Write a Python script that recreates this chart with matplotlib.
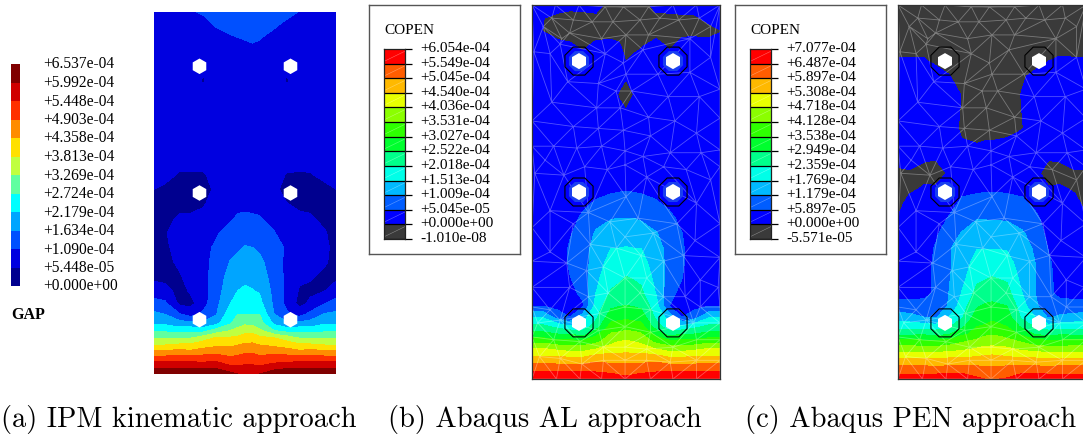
import numpy as np
import matplotlib
matplotlib.use('Agg')
import matplotlib.pyplot as plt
import matplotlib.tri as mtri
from matplotlib.patches import RegularPolygon
from matplotlib.transforms import ScaledTranslation

grid_x = [0, .06, .14, .2, .27, .34, .42, .46, .5, .54, .58, .66, .73, .8, .86, .94, 1]
grid_y = [0, .03, .06, .09, .12, .16, .2, .24, .28, .33, .39,
          .46, .54, .62, .7, .78, .86, .94, 1.02, 1.1, 1.18,
          1.26, 1.34, 1.42, 1.52, 1.62, 1.7, 1.78, 1.86, 1.93, 2.0]

# field values in legend steps, one list per grid_x column
gap_field = [
    [12,11,10.2,9.3,8.3,7,5.9,4.8,3.9,3.2,2.4, 1.4,.8,.7,.7,.7,.6,.6,1,1.3,1.4, 1.5,1.5,1.5,1.5,1.5,1.5,1.5,1.5,1.5,1.5],
    [12,11,10.2,9.3,8.3,7,5.9,4.8,3.8,3,2.2, 1.3,.7,.7,.8,.95,.8,.6,.8,1.3,1.4, 1.5,1.5,1.5,1.5,1.5,1.5,1.5,1.5,1.5,1.5],
    [12,11,10.3,9.5,8.5,7.2,5.85,4.6,3.4,2.1,.8, .7,.9,1.2,1.4,1.3,1.1,.8,.6,.9,1.3, 1.5,1.5,1.5,1.5,1.5,1.5,1.5,1.5,1.5,1.5],
    [12,11,10.2,9.4,8.3,7.2,5.9,4.7,3.3,1.6,.7, 1.1,1.4,1.5,1.6,1.4,1.15,.7,.6,.9,1.3, 1.5,1.5,1.5,1.5,1.5,1.5,1.5,1.5,1.55,1.9],
    [12,11,10.1,9.5,8.5,7.6,6.5,4.6,3.2,2.2,1.6, 1.6,1.7,1.7,1.8,1.5,1.3,.9,.6,.9,1.3, 1.5,1.5,1.5,1.5,.9,1.2,1.5,1.5,1.7,2.1],
    [12,11,10.2,9.6,8.7,7.8,7.1,5.4,3.7,2.9,2.7, 2.5,2.4,2.3,2.1,1.9,1.7,1.4,1.2,1.3,1.4, 1.5,1.5,1.5,1.5,1.5,1.5,1.5,1.6,2.1,2.4],
    [11.3,10.4,9.7,9.1,8.6,7.8,7.1,6,4.9,4.6,4, 3.7,3.4,3.05,2.7,2.3,1.9,1.7,1.6,1.5,1.5, 1.5,1.5,1.5,1.5,1.5,1.6,1.7,1.9,2.4,2.6],
    [11,10.3,9.7,9.2,8.7,8,7.2,6.3,5.6,5,4.5, 4,3.6,3.25,2.85,2.45,2.1,1.8,1.6,1.5,1.5, 1.5,1.5,1.5,1.5,1.5,1.6,1.7,2,2.5,2.6],
    [10.9,10.5,9.8,9.4,8.9,8.2,7.4,6.7,5.8,5,4.6, 4.15,3.75,3.4,3.05,2.6,2.15,1.8,1.6,1.5,1.5, 1.5,1.5,1.5,1.5,1.5,1.6,1.8,2.05,2.5,2.6],
    [10.9,10.5,9.8,9.4,8.9,8.2,7.5,6.7,5.7,5,4.4, 4.05,3.7,3.35,3,2.55,2.1,1.8,1.6,1.5,1.5, 1.5,1.5,1.5,1.5,1.5,1.6,1.85,2.1,2.5,2.6],
    [11,10.3,9.7,9.2,8.7,8,7.2,6.2,5.4,5,4.3, 3.9,3.5,3.2,2.85,2.5,2.05,1.8,1.6,1.5,1.5, 1.5,1.5,1.5,1.5,1.5,1.6,1.8,2.05,2.4,2.6],
    [11.8,10.7,10,9.5,8.7,7.8,7,5,3.8,3,2.8, 2.7,2.6,2.5,2.3,2.05,1.7,1.4,1.2,1.3,1.4, 1.5,1.5,1.5,1.5,1.5,1.5,1.6,1.8,2.1,2.4],
    [12,11,10.1,9.5,8.5,7.6,6.5,4.6,3.2,2.2,1.7, 1.75,1.75,1.75,1.9,1.5,1.3,1.03,.7,.95,1.3, 1.5,1.5,1.5,1.5,.9,1.2,1.5,1.5,1.85,2.2],
    [12,11,10.2,9.4,8.3,7.2,5.9,4.7,3.3,1.6,.7, .9,1.2,1.4,1.5,1.4,1.2,.8,.6,.9,1.3, 1.5,1.5,1.5,1.5,1.5,1.5,1.5,1.5,1.5,1.97],
    [12,11,10.3,9.5,8.5,7.2,5.85,4.6,3.4,2.3,1.2, .8,1.1,1.3,1.4,1.3,1.1,.8,.6,.95,1.25, 1.5,1.5,1.5,1.5,1.5,1.5,1.5,1.5,1.5,1.8],
    [12,11,10.2,9.3,8.3,7,5.9,4.8,3.9,3.1,2, 1,.8,1.1,1.2,1.05,.8,.6,.8,1.2,1.35, 1.5,1.5,1.5,1.5,1.5,1.5,1.5,1.5,1.5,1.6],
    [12,11,10.2,9.3,8.3,7,5.9,4.8,3.9,3.2,2.4, 1.4,.8,.7,.7,.7,.6,.6,1,1.3,1.4, 1.5,1.5,1.5,1.5,1.5,1.5,1.5,1.5,1.5,1.5],
]

al_field = [
    [12,11.2,10.5,9.8,9,8.1,6.7,5.3,4.25,2.9,1, .7,.5,.5,.5,.5,.5,.5,.5,.5,.5, .5,.5,.5,.5,.5,.5,.5,.5,.5,.5],
    [12,11.2,10.5,9.8,9,8.1,6.7,5.3,4.25,2.9,1, .7,.5,.5,.5,.5,.5,.5,.5,.5,.5, .5,.5,.5,.5,.5,.5,.5,-.02,.02,.5],
    [12,11.2,10.5,9.75,9,7.8,6.3,5,3.7,1.5,.7, .6,.5,.5,.5,.5,.5,.5,.5,.5,.5, .5,.5,.5,.5,.5,.5,.3,-.4,-.3,.5],
    [12,11.2,10.5,9.7,8.9,7.6,6.3,5,3.2,1,.6, .8,.95,1.1,1.1,.9,.7,.5,.5,.5,.5, .5,.5,.5,.5,.5,.5,.2,-.5,-.5,.4],
    [12,11.2,10.5,9.7,8.9,7.6,6.3,4.6,3.4,2.6,.9, 1.15,1.4,1.5,1.6,1.4,1.15,.8,.5,.5,.5, .5,.5,.5,.5,.5,.5,-.2,-.5,-.5,.5],
    [12,11.2,10.4,10,9.3,8,6.7,5.7,4.5,3.8,3.4, 3,2.75,2.55,2.35,2.1,1.7,1.1,.7,.5,.5, .5,.5,.5,.5,.5,.5,.3,-.5,-.3,.5],
    [12,11,10.4,9.9,9.4,8.5,7.7,7.1,6.4,5.6,4.8, 4.1,3.7,3.35,3,2.45,1.95,1.35,.8,.5,.5, .5,.5,.5,.5,.5,.5,.4,-.5,-.5,-.5],
    [11.6,10.8,10.4,9.9,9.3,8.6,8,7.2,6.5,5.7,4.95, 4.25,3.85,3.4,3,2.5,2,1.4,.85,.5,.5, .5,.5,.3,-.05,.3,.5,.2,-.5,-.5,-.5],
    [11.3,10.75,10.4,9.9,9.3,8.7,8.1,7.4,6.6,5.8,5.05, 4.45,4.05,3.55,3.05,2.5,2,1.45,.9,.5,.5, .5,.5,.1,-.4,.1,-.02,-.4,-.5,-.5,-.5],
    [11.6,10.8,10.4,9.9,9.3,8.6,8,7.3,6.5,5.7,4.95, 4.3,3.95,3.5,3,2.5,2,1.4,.85,.5,.5, .5,.5,.3,0,.3,.3,-.3,-.5,-.5,-.5],
    [12,11,10.4,9.9,9.4,8.5,7.8,7.1,6.4,5.6,4.8, 4.2,3.8,3.4,3,2.4,1.9,1.35,.8,.5,.5, .5,.5,.5,.5,.5,.5,-.1,-.5,-.5,-.5],
    [12,11.2,10.4,10,9.3,8,6.7,5.7,4.5,3.8,3.4, 2.95,2.7,2.5,2.3,2.05,1.6,1.1,.7,.5,.5, .5,.5,.5,.5,.5,.5,.5,-.5,-.3,.4],
    [12,11.2,10.5,9.7,8.9,7.6,6.3,4.6,3.4,2.6,1, 1.3,1.6,1.7,1.75,1.55,1.25,.8,.5,.5,.5, .5,.5,.5,.5,.5,.5,-.15,-.5,-.3,.5],
    [12,11.2,10.5,9.7,8.9,7.6,6.3,5,3.2,1,.6, .7,1,1.1,1.1,1,.7,.5,.5,.5,.5, .5,.5,.5,.5,.5,.5,.3,-.2,-.2,.5],
    [12,11.2,10.5,9.75,9,7.8,6.3,5,3.7,1.5,.7, .6,.5,.5,.5,.5,.5,.5,.5,.5,.5, .5,.5,.5,.5,.5,.5,.5,-.3,-.2,.5],
    [12,11.2,10.5,9.8,9,8.1,6.7,5.3,4.25,2.9,1, .7,.5,.5,.5,.5,.5,.5,.5,.5,.5, .5,.5,.5,.5,.5,.5,.5,-.4,.3,.5],
    [12,11.2,10.5,9.8,9,8.1,6.7,5.3,4.25,2.9,1, .7,.5,.5,.5,.5,.5,.5,.5,.5,.5, .5,.5,.5,.5,.5,.5,.5,-.05,.5,.5],
]

pen_field = [
    [11.6,10.8,10.25,9.5,8.7,7.5,6.4,4.8,3.6,2.5,1.35, .7,.5,.5,.5,.3,.05,-.3,-.5,-.2,.3, .5,.5,.5,.5,.5,.1,-.3,-.5,-.5,-.5],
    [11.6,10.8,10.25,9.5,8.7,7.5,6.4,4.8,3.6,2.4,1.3, .7,.5,.5,.5,.5,.5,.3,-.2,-.1,.3, .5,.5,.5,.5,.5,.1,-.3,-.5,-.5,-.5],
    [11.6,10.8,10.25,9.5,8.7,7.4,6.3,4.85,3.5,2,1.25, .8,.7,.6,.5,.5,.5,.4,.1,-.3,.1, .5,.5,.5,.5,.5,.1,-.3,-.5,-.5,-.5],
    [11.7,10.9,10.2,9.5,8.7,7.4,6.3,4.7,3.4,1.9,1, 1.1,1.2,1.2,1.1,.8,.6,.5,.1,-.4,.05, .5,.5,.5,.5,.5,-.2,-.5,-.5,-.5,-.5],
    [11.9,11,10.2,9.6,8.8,7.6,6.4,4.9,3.9,3,2.1, 2,1.9,1.85,1.95,1.6,1.05,.7,.5,.1,.5, .5,.5,.5,.5,.05,-.4,-.5,-.5,-.5,-.5],
    [11.9,11,10.2,9.6,8.8,7.8,6.9,5.8,4.8,3.9,3.5, 3.05,2.7,2.5,2.2,2.05,1.5,1.15,.8,.6,.5, .1,-.2,-.1,-.05,-.4,-.5,-.5,-.5,-.5,-.5],
    [11.2,10.6,10.2,9.6,9,8.1,7.3,6.3,6,5.5,4.9, 4.3,3.8,3.4,2.95,2.45,1.95,1.35,.8,.6,.5, 0,-.5,-.5,-.5,-.5,-.5,-.5,-.5,-.5,-.5],
    [11,10.5,10.1,9.7,9.1,8.3,7.5,6.8,6.1,5.6,5.1, 4.5,3.9,3.45,2.95,2.45,1.95,1.4,.85,.6,.5, .1,-.5,-.5,-.5,-.5,-.5,-.5,-.5,-.5,-.5],
    [11,10.45,10.1,9.7,9.2,8.3,7.6,6.9,6.4,5.7,5.15, 4.7,4.05,3.5,2.95,2.45,1.9,1.4,.85,.6,.4, .1,-.5,-.5,-.5,-.5,-.5,-.5,-.5,-.5,-.5],
    [11,10.5,10.1,9.7,9.1,8.3,7.5,6.8,6.2,5.6,5.1, 4.5,3.95,3.45,2.95,2.45,1.9,1.4,.85,.6,.5, .2,-.5,-.5,-.5,-.5,-.5,-.5,-.5,-.5,-.5],
    [11.1,10.6,10.2,9.6,9,8.2,7.4,6.5,6,5.5,5, 4.35,3.85,3.4,2.9,2.4,1.9,1.35,.8,.6,.5, .3,-.5,-.5,-.5,-.5,-.5,-.5,-.5,-.5,-.5],
    [11.9,11,10.2,9.6,8.8,7.8,6.9,5.8,4.8,3.8,3.4, 3,2.7,2.5,2.3,2.1,1.65,1.15,.8,.6,.5, .5,-.05,0,.05,-.1,-.5,-.5,-.5,-.5,-.5],
    [11.9,11,10.2,9.6,8.8,7.6,6.4,4.9,3.9,3,2.2, 2,2,2,1.9,1.6,1.2,.8,.6,.2,.5, .5,.5,.5,.5,.2,-.3,-.5,-.5,-.5,-.5],
    [11.7,10.9,10.2,9.5,8.7,7.4,6.3,4.7,3.4,1.9,1.3, 1.15,1.2,1.15,.95,.7,.6,.5,.05,-.3,.05, .5,.5,.5,.5,.5,0,-.4,-.5,-.5,-.5],
    [11.6,10.8,10.25,9.5,8.7,7.4,6.3,4.85,3.5,2.2,1.3, .8,.7,.6,.5,.5,.5,.4,.1,-.3,.1, .5,.5,.5,.5,.5,.15,-.3,-.5,-.5,-.5],
    [11.6,10.8,10.25,9.5,8.7,7.5,6.4,4.8,3.6,2.4,1.3, .7,.5,.5,.5,.5,.5,.2,-.1,-.1,.3, .5,.5,.5,.5,.5,.1,-.3,-.5,-.5,-.5],
    [11.6,10.8,10.25,9.5,8.7,7.5,6.4,4.8,3.6,2.5,1.35, .7,.5,.5,.5,.3,.1,-.2,-.4,-.1,.3, .5,.5,.5,.5,.5,.1,-.3,-.5,-.5,-.5],
]

# legend labels, bottom to top
gap_labels = ['+0.000e+00', '+5.448e-05', '+1.090e-04', '+1.634e-04', '+2.179e-04', '+2.724e-04', '+3.269e-04',
              '+3.813e-04', '+4.358e-04', '+4.903e-04', '+5.448e-04', '+5.992e-04', '+6.537e-04']
al_labels = ['-1.010e-08', '+0.000e+00', '+5.045e-05', '+1.009e-04', '+1.513e-04', '+2.018e-04', '+2.522e-04',
             '+3.027e-04', '+3.531e-04', '+4.036e-04', '+4.540e-04', '+5.045e-04', '+5.549e-04', '+6.054e-04']
pen_labels = ['-5.571e-05', '+0.000e+00', '+5.897e-05', '+1.179e-04', '+1.769e-04', '+2.359e-04', '+2.949e-04',
              '+3.538e-04', '+4.128e-04', '+4.718e-04', '+5.308e-04', '+5.897e-04', '+6.487e-04', '+7.077e-04']

gap_colors = ['#00008f', '#0000e0', '#0050ff', '#00a5ff', '#00ffff', '#60ffa0',
              '#c0ff40', '#ffe000', '#ff8c00', '#ff3000', '#d00000', '#800000']
abaqus_colors = ['#3a3a3a', '#0000ff', '#005dff', '#00b9ff', '#00ffe8', '#00ff8b', '#00ff2e',
                 '#2eff00', '#8bff00', '#e8ff00', '#ffb900', '#ff5d00', '#ff0000']

captions = ['(a) IPM kinematic approach', '(b) Abaqus AL approach', '(c) Abaqus PEN approach']

hole_x = [.25, .75]
hole_y = [.3, 1.0, 1.7]

# mesh nodes, same mesh in (c)
mesh_x = [0, .125, .25, .39, .486, .62, .75, .875, 1, .06, .105, .22, .32, .43, .575, .68, .78, .89, .95, .158, .84,
          .62, .50, .37, .2, .486, .39, .59, .096, .15, .01, .50, .447, .53, .47, .105, .19, .353, .344, .62, .76, .67,
          .84, .95, .89, .725, 1, 0, .22, .353, .486, .63, .875, 1, .115, .238, .37, .495, .59, .735, .9, 0, 1, .07,
          .17, .28, .40, .495, .61, .70, .82, 1, .015, .95, .096, 0, .22, .31, .30, .415, .50, .565, .495, .645, .77,
          .875, 1, .867, 1, .805, .70, .58, .45, .096, 0, .185, .38, .29, .495, .61, .895, .99, 0, .2, .3, .405, .575,
          .70, .815, .495, .36, .63, .096, 0, .895, 1, .03, .15, .355, .495, .63, .86, 1, 0, .115, .255, .38, .495,
          .61, .75, .875, 1, .04, .15, .265, .38, .495, .61, .735, .875, 1, 0, .13, .255, .37, .495, .63, .75, .875, 1]
mesh_y = [2, 2, 2, 1.99, 1.99, 1.99, 2, 2, 2, 1.885, 1.93, 1.92, 1.91, 1.91, 1.92, 1.93, 1.92, 1.93, 1.885, 1.82, 1.82,
          1.84, 1.84, 1.82, 1.85, 1.69, 1.74, 1.76, 1.74, 1.79, 1.75, 1.63, 1.54, 1.54, 1.45, 1.48, 1.59, 1.58, 1.45,
          1.40, 1.38, 1.63, 1.64, 1.72, 1.51, 1.51, 1.55, 1.38, 1.35, 1.34, 1.33, 1.30, 1.315, 1.395, 1.245, 1.235,
          1.245, 1.22, 1.19, 1.21, 1.21, 1.245, 1.225, 1.17, 1.09, 1.135, 1.12, 1.145, 1.08, 1.135, 1.12, 1.135, 1.10,
          1.065, .90, .81, .83, .72, .89, .84, .975, .86, .76, .78, .83, .94, .83, .74, .65, .66, .63, .66, .70, .68,
          .63, .62, .60, .58, .54, .54, .53, .49, .49, .49, .44, .46, .46, .44, .44, .385, .35, .37, .37, .385, .385,
          .385, .30, .315, .26, .28, .25, .30, .30, .225, .21, .20, .17, .17, .16, .17, .21, .21, .12, .11, .08, .10,
          .10, .10, .09, .10, .10, 0, 0, 0, 0, 0, 0, 0, 0, 0]

W, H = 1083, 434
plt.rcParams['font.family'] = ['Liberation Serif', 'DejaVu Serif']
fig = plt.figure(figsize=(W / 100, H / 100), dpi=100)


def px_axes(left, top, width, height):
    return fig.add_axes([left / W, 1 - (top + height) / H, width / W, height / H])


def draw_plate(rect, field, levels, colors):
    ax = px_axes(*rect)
    ax.contourf(grid_x, grid_y, np.array(field).T, levels=levels, colors=colors)
    ax.set_xlim(0, 1)
    ax.set_ylim(0, 2)
    ax.set_xticks([])
    ax.set_yticks([])
    return ax


def add_holes(ax, ring_colors=None):
    for j, y in enumerate(hole_y):
        for x in hole_x:
            if ring_colors is not None:
                if ring_colors[j] is not None:
                    ax.add_patch(RegularPolygon((x, y), 8, radius=.058, orientation=np.pi / 8,
                                                facecolor=ring_colors[j], edgecolor='none', zorder=3))
                ax.add_patch(RegularPolygon((x, y), 8, radius=.081, orientation=np.pi / 8,
                                            facecolor='none', edgecolor='black', lw=.8, zorder=4))
            ax.add_patch(RegularPolygon((x, y), 6, radius=.043, facecolor='white', edgecolor='none', zorder=5))


def draw_legend(rect, labels, colors, ticklen, pad, diagonal, font_size, shift):
    ax = px_axes(*rect)
    n = len(colors)
    ax.barh(np.arange(n) + .5, 1, height=1, color=colors, linewidth=0)
    ax.set_xlim(0, 1)
    ax.set_ylim(0, n)
    ax.set_xticks([])
    ax.yaxis.tick_right()
    ax.set_yticks(np.arange(n + 1), labels=labels, fontsize=font_size)
    ax.tick_params(axis='y', length=ticklen, width=.9, pad=pad)
    for lab in ax.get_yticklabels():
        lab.set_transform(lab.get_transform() + ScaledTranslation(0, shift / 100, fig.dpi_scale_trans))
    if diagonal:
        for i in range(n):
            ax.plot([0, 1], [i + .15, i + .85], color='white', lw=.4, alpha=.4)
            ax.axhline(i, color='black', lw=.9)
        for s in ax.spines.values():
            s.set_linewidth(.9)
            s.set_color('#222222')
    else:
        for s in ax.spines.values():
            s.set_visible(False)
    return ax


def legend_box(rect, title, tx, ty):
    ax = px_axes(*rect)
    ax.set_xticks([])
    ax.set_yticks([])
    for s in ax.spines.values():
        s.set_color('#555555')
        s.set_linewidth(1.0)
    fig.text(tx / W, 1 - ty / H, title, fontsize=11, va='center', ha='left')


mesh = mtri.Triangulation(mesh_x, mesh_y)

# panel (a)
ax_a = draw_plate((154, 12, 182, 362), gap_field, np.arange(0, 13), gap_colors)
add_holes(ax_a)
for s in ax_a.spines.values():
    s.set_visible(False)
draw_legend((11, 64, 9, 222), gap_labels, gap_colors, 0, 17, False, 11.2, 1.5)
fig.text(11 / W, 1 - 315 / H, 'GAP', fontsize=11.5, fontweight='bold', va='center', ha='left')

# panel (b)
legend_box((369, 5, 151, 249), 'COPEN', 384, 30)
draw_legend((384, 49, 21, 190), al_labels, abaqus_colors, 5, 6, True, 11, 2)
ax_b = draw_plate((532, 5, 188, 374), al_field, np.arange(-1, 13), abaqus_colors)
ax_b.triplot(mesh, color='white', lw=.6, alpha=.32, zorder=2)
add_holes(ax_b, [None, '#1a3ff0', '#1a3ff0'])
for s in ax_b.spines.values():
    s.set_linewidth(.9)
    s.set_color('#333333')

# panel (c)
legend_box((735, 5, 151, 249), 'COPEN', 750, 30)
draw_legend((750, 49, 21, 190), pen_labels, abaqus_colors, 5, 6, True, 11, 2)
ax_c = draw_plate((898, 5, 188, 374), pen_field, np.arange(-1, 13), abaqus_colors)
ax_c.triplot(mesh, color='white', lw=.6, alpha=.32, zorder=2)
add_holes(ax_c, [None, '#1a3ff0', None])
for s in ax_c.spines.values():
    s.set_linewidth(.9)
    s.set_color('#333333')

# captions in computer modern
for cap, cx in zip(captions, [179, 545, 911]):
    fig.text(cx / W, 1 - 419 / H, cap, fontsize=20.5, family='cmr10', ha='center', va='center')

fig.savefig('out.png', dpi=100)
